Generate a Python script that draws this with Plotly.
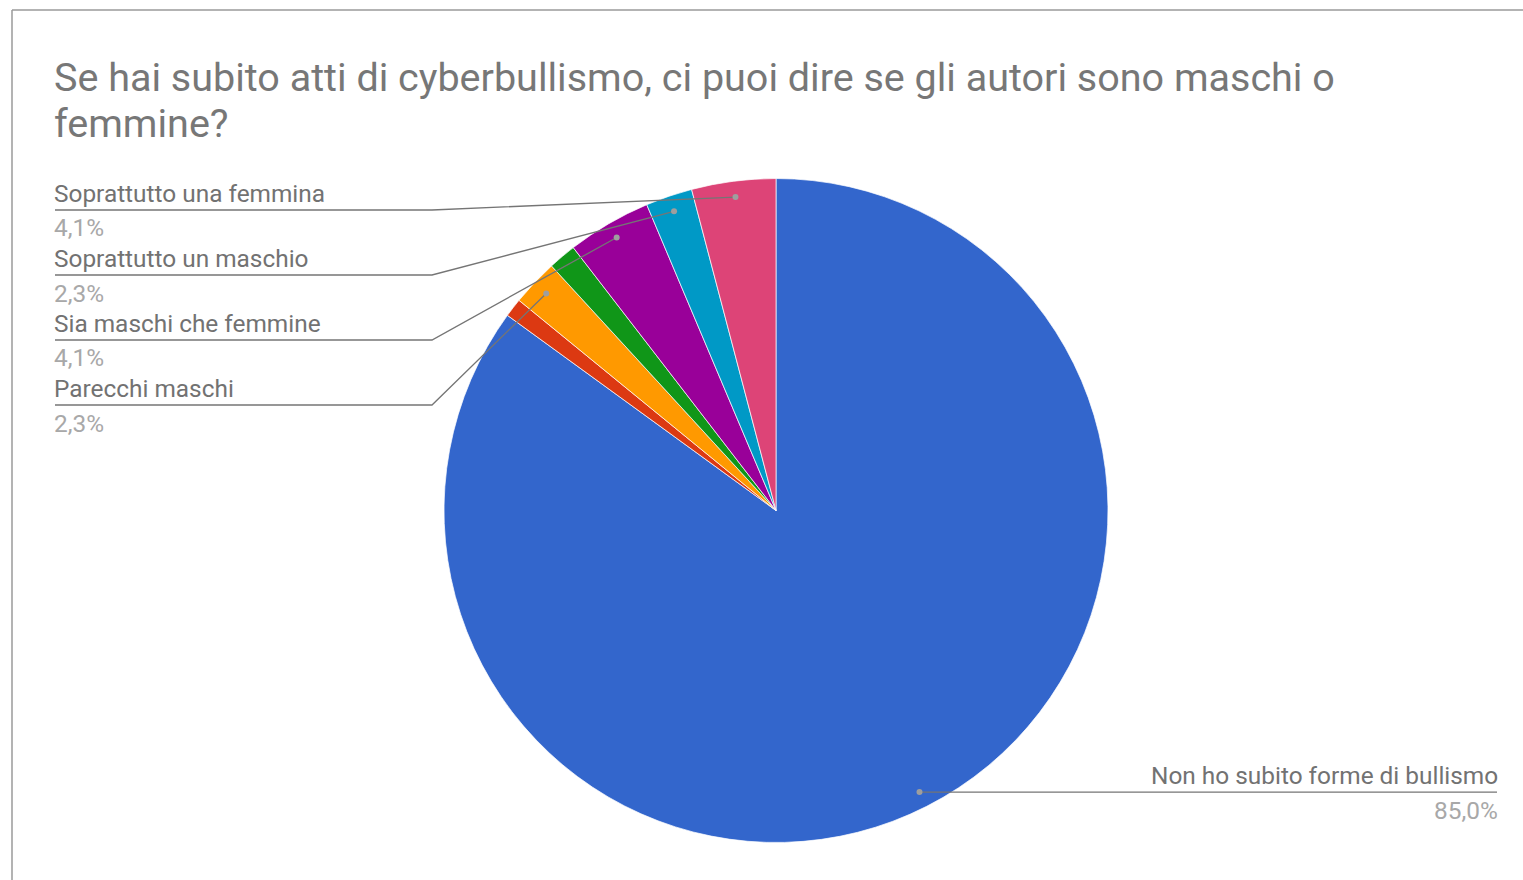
import math
import plotly.graph_objects as go

# ---- data ----
labels = ["Non ho subito forme di bullismo", "Non lo so", "Parecchi maschi",
          "Parecchie femmine", "Sia maschi che femmine",
          "Soprattutto un maschio", "Soprattutto una femmina"]
counts = [187, 2, 5, 3, 9, 5, 9]
colors = ["#3366cc", "#dc3912", "#ff9900", "#109618", "#990099", "#0099c6", "#dd4477"]
title_lines = ["Se hai subito atti di cyberbullismo, ci puoi dire se gli autori sono maschi o",
               "femmine?"]
# which slices get a left-side callout (in order top to bottom) and one right-side callout
left_callouts = ["Soprattutto una femmina", "Soprattutto un maschio",
                 "Sia maschi che femmine", "Parecchi maschi"]
right_callouts = ["Non ho subito forme di bullismo"]

W, H = 1523, 880
CX, CY, R = 776, 510.5, 332


def px(x):
    return x / W


def py(y):
    return 1 - y / H


total = sum(counts)
cum = 0
mid_frac = {}
pct = {}
for lab, c in zip(labels, counts):
    mid_frac[lab] = (cum + c / 2) / total
    pct[lab] = f"{100 * c / total:.1f}".replace(".", ",") + "%"
    cum += c


def anchor_point(lab):
    th = 2 * math.pi * mid_frac[lab]
    rr = 0.952 * R
    return CX + rr * math.sin(th), CY - rr * math.cos(th)


fig = go.Figure()
fig.add_trace(go.Pie(
    labels=labels, values=counts, sort=False, direction="clockwise", rotation=0,
    marker=dict(colors=colors, line=dict(color="white", width=0.7)),
    textinfo="none", hoverinfo="label+percent", showlegend=False,
    domain=dict(x=[px(CX - R), px(CX + R)], y=[py(CY + R), py(CY - R)]),
))

shapes = []
annotations = []
LINE_C = "#757575"
DOT_C = "#9e9e9e"
LAB_C = "#727272"
PCT_C = "#a8a8a8"
FONT = "Roboto"
LFS = 24.4

# border of the chart frame
shapes.append(dict(type="line", xref="paper", yref="paper", x0=px(12), x1=px(W + 5),
                   y0=py(10), y1=py(10), line=dict(color="#9a9a9a", width=1.5)))
shapes.append(dict(type="line", xref="paper", yref="paper", x0=px(12), x1=px(12),
                   y0=py(10), y1=py(H + 5), line=dict(color="#9a9a9a", width=1.5)))

# title
for i, t in enumerate(title_lines):
    annotations.append(dict(text=t, xref="paper", yref="paper", x=px(52), y=py(77 + 46 * i),
                            xanchor="left", yanchor="middle", showarrow=False,
                            font=dict(family=FONT, size=39.5, color="#777777")))

# left callouts
for i, lab in enumerate(left_callouts):
    ly = 210 + 65 * i
    ax, ay = anchor_point(lab)
    path = f"M {px(55)},{py(ly)} L {px(432)},{py(ly)} L {px(ax)},{py(ay)}"
    shapes.append(dict(type="path", xref="paper", yref="paper", path=path,
                       line=dict(color=LINE_C, width=1.3)))
    shapes.append(dict(type="circle", xref="paper", yref="paper",
                       x0=px(ax - 3), x1=px(ax + 3), y0=py(ay - 3), y1=py(ay + 3),
                       fillcolor=DOT_C, line=dict(width=0)))
    annotations.append(dict(text=lab, xref="paper", yref="paper", x=px(52), y=py(ly - 17),
                            xanchor="left", yanchor="middle", showarrow=False,
                            font=dict(family=FONT, size=LFS, color=LAB_C)))
    annotations.append(dict(text=pct[lab], xref="paper", yref="paper", x=px(52), y=py(ly + 18),
                            xanchor="left", yanchor="middle", showarrow=False,
                            font=dict(family=FONT, size=LFS, color=PCT_C)))

# right callout
for lab in right_callouts:
    ax, ay = anchor_point(lab)
    shapes.append(dict(type="line", xref="paper", yref="paper", x0=px(ax), x1=px(1497),
                       y0=py(ay), y1=py(ay), line=dict(color=LINE_C, width=1.3)))
    shapes.append(dict(type="circle", xref="paper", yref="paper",
                       x0=px(ax - 3), x1=px(ax + 3), y0=py(ay - 3), y1=py(ay + 3),
                       fillcolor=DOT_C, line=dict(width=0)))
    annotations.append(dict(text=lab, xref="paper", yref="paper", x=px(1500), y=py(ay - 17),
                            xanchor="right", yanchor="middle", showarrow=False,
                            font=dict(family=FONT, size=LFS, color=LAB_C)))
    annotations.append(dict(text=pct[lab], xref="paper", yref="paper", x=px(1500), y=py(ay + 18),
                            xanchor="right", yanchor="middle", showarrow=False,
                            font=dict(family=FONT, size=LFS, color=PCT_C)))

fig.update_layout(
    width=W, height=H, margin=dict(l=0, r=0, t=0, b=0),
    paper_bgcolor="white", plot_bgcolor="white",
    shapes=shapes, annotations=annotations,
)
fig.write_html("out.html", config={"displayModeBar": False},
               post_script="document.body.style.margin='0';")
